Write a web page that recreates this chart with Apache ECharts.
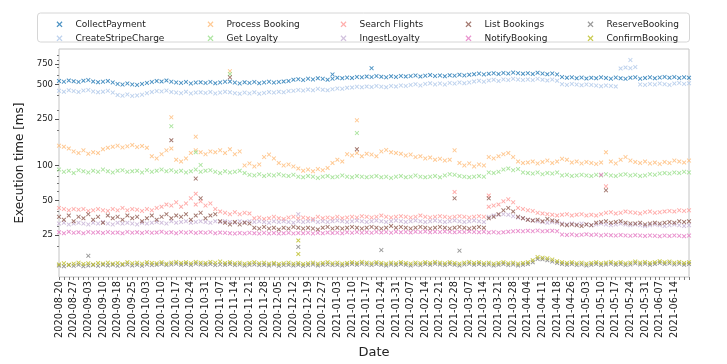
<!DOCTYPE html>
<html>
<head>
    <meta charset="utf-8">
    <title>Execution time</title>
    <script src="https://cdn.jsdelivr.net/npm/echarts@6/dist/echarts.min.js"></script>
</head>
<body style="margin:0;background:#fff;">
<div id="main" style="width: 727px;height:364px;"></div>
<script type="text/javascript">
    // weekly tick labels shown on the x axis
    const tickLabels = ['2020-08-20', '2020-08-27', '2020-09-03', '2020-09-10', '2020-09-18', '2020-09-25',
        '2020-10-03', '2020-10-10', '2020-10-17', '2020-10-24', '2020-10-31', '2020-11-07', '2020-11-14',
        '2020-11-21', '2020-11-28', '2020-12-05', '2020-12-12', '2020-12-19', '2020-12-27', '2021-01-03',
        '2021-01-10', '2021-01-17', '2021-01-24', '2021-01-31', '2021-02-07', '2021-02-14', '2021-02-21',
        '2021-02-28', '2021-03-07', '2021-03-14', '2021-03-21', '2021-03-28', '2021-04-04', '2021-04-11',
        '2021-04-18', '2021-04-26', '2021-05-03', '2021-05-10', '2021-05-17', '2021-05-24', '2021-05-31',
        '2021-06-07', '2021-06-14'];
    const yTicks = [25, 50, 100, 250, 500, 750];
    const yMinorTicks = [20, 30, 40, 60, 70, 80, 90, 200, 300, 400, 600, 700, 800, 900];

    // execution time [ms], three samples per weekly tick
    const collectPayment = [535,528,540,532,525,538,545,530,522,528,535,520,
        505,498,510,500,495,505, 515,525,535,530,540,528,
        520,515,525,510,518,522,515,525,512,520,528,530,
        518,510,522,515,525,512,520,528,518,525,530,535,
        548,555,545,560,552,565,558,548,560,570,565,572,
        568,580,575,585,578,590,582,575,588,580,592,585,
        590,598,585,595,602,590,598,588,600,595,605,598,
        605,612,620,610,618,625,615,628,620,632,625,618,
        625,615,630,620,612,622,610, 578,570,575,565,572,
        562,570,565,575,568,560,572,565,558,570,575,560,
        568,575,565,572,580,570,578,568,575,570];
    const createStripeCharge = [440,432,445,438,430,442,448,435,428,432,440,425,
        405,400,410,398,402,408, 420,430,438,435,442,430,
        425,420,432,418,425,428,422,430,418,425,432,428,
        420,415,425,418,428,415,422,430,425,432,428,438,
        440,448,442,452,445,458,450,445,455,462,458,468,
        470,478,472,480,475,485,478,472,485,480,490,485,
        495,502,490,505,512,500,510,498,515,508,520,512,
        520,530,538,528,540,548,535,552,545,558,550,545,
        552,545,558,548,540,550,538,
        502,495,505,498,492,500,495,488,482,490,485,480,
        685,700,690,705,
        500,495,505,498,510,502,495,508,515,505,512];
    const processBooking = [148,145,140, 132,128,135,126,130,128,
        138,142,145,148,143,146,150,144,147,142, 120,115,125, 135,140, 112,108,115,
        128,135,130,125,132, 130,135,128,138,125,132, 100,104,98,102, 118,124,115,
        105,100,102,98, 94,90,92,89,93,91,95, 105,112,108, 125,122,128,120,126,124,
        120,132,136,130,128, 126,122,124,118,120,115,117,112,114,110, 112,135,
        105,100,104,98,102,100, 118,115,120,125,128,118, 108,105,
        106,108,104,107,110,105,108,114,112,106, 108,104,107,105,103,106,130,108,104,112,
        118,110,107,105,108,104,106,103,107,105, 110,108,106,110];
    const getLoyalty = [92,88,90,86,91,89,87,90,88,92, 89,87,90,91,88,89,90,87,91,88,
        90,92,89,91,88,90,87,89,92,88, 90,91,
        88,86,89,87,88,90,86, 83,82,84,81,83,82,84,82,81,83,
        80,79,81,80,78,80,81,79,80,82, 80,79,81,80,79,80,81,79,80,78,
        80,81,79,80,82,80,79,80,81,79,
        82,84,83,81, 80,79,80,81,80, 87,86,88, 92,94,91,93, 87,
        86,85,87,84,86,85,87,
        82,83,81,82,83,82,81,83,82,84, 82,81,83,84,82,83,81,82,84,83, 85,86,85,87,86,88,87];
    const searchFlights = [43,42,41,42,41.5,42,40.5,41,42,41, 40.5,42,41,43,41,42,41.5,40.5,42,41, 43,
        44,46,45,48,44,47,52,46,49,45,47,
        42,40,39,38,39.5,38,39,38.5,
        35,35.5,34.5,35,36,35,34.5,35.5,36,35, 35.5,35,34.5,36,35,35.5,35,36,35,35.5,
        36,35.5,36.5,36,35.5,36,37,36,35.5,36, 36.5,36,35.5,36,37,36,35.5,36,36.5,36,
        35.5,36,36.5,36,35.5,36,36.5,36,
        44,45,46,49,51,48,43,42,
        41,40.5,39,38.5,38,37.5,37,37.5,38,37,37.5,38,37,37.5,37,38,
        39,39.5,38.5,39,40,39.5,39,38.5,39.5,40,39,39.5,40,40.5,40,41,40.5,41];
    const ingestLoyalty = [31.5,32,31,31.5,32,31.5,31,32,31.5,32.5, 31.5,31,32,31.5,32,31.5,31,32,31.5,32,
        32.5,32,31.5,33,32,32.5,33,32,32.5,33, 32.5,32,33,32.5,33,32.5,32,33,32.5,33,
        32.5,33,32.5,32,33,32.5,33,32.5,32,33, 32.5,33,33.5,32.5,33,32.5,33,33.5,33,32.5,
        33,33.5,33,32.5,33,33.5,33,32.5,33,33.5, 33,32.5,33,33.5,33,32.5,33,33.5,33,32.5,
        33,33.5,33,32.5,33,33.5,33,32.5,
        36,37,37.5,38,37.5,36.5,35.5,35,
        34,33.5,33,32.5,32,32.5,32,31.5,31,31.5, 31,31.5,31,30.5,31,31.5,31,30.5,31,31.5,
        31,30.5,31,30.5,30,30.5,31,30.5,30,30.5, 31,30.5,30,30.5];
    const listBookings = [36,34,37,33,36,35,38,34,36,32, 37,35,36,34,37,35,36,33,35,37,
        34,36,38,35,37,36,38,34,37,39, 35,37,
        38,33,32,31,32.5,31,32,31.5,
        29,28.5,29.5,28.5,29,28,29,28.5,29.5,29, 28.5,29,28.5,28,29,29.5,28.5,29,28.5,29,
        29.5,29,28.5,29,29.5,29,28.5,29,30,29, 29.5,29,28.5,29,29.5,29,28.5,29,29.5,29,
        28.5,29,29.5,29,28.5,29,29.5,29,
        35,36,38,41,43,40,36,35,
        34,33.5,34,33,34.5,33.5,33,31,30.5,31,30.5,30,31,30.5,
        32,32.5,33,32,32.5,33,32,31.5,
        31.5,32,31,31.5,32,31.5,32,32.5,32,33,32.5,33];
    const notifyBooking = [26.5,26,26.8,26.2,26.5,26,26.7,26.3,26.5,26.1, 26.6,26.2,26.4,26,26.7,26.3,26.5,26.1,26.6,26.2,
        26.4,26.8,26.2,26.5,26,26.6,26.3,26.7,26.1,26.5, 26.2,26.6,26,26.4,26.2,26,25.8,26.1,25.9,26.2,
        26,25.8,26.2,25.9,26.1,25.8,26,26.2,25.9,26.1, 26,26.3,25.9,26.2,26,26.4,26.1,26.3,26,26.5,
        26.2,26.6,26.3,26.5,26.2,26.7,26.4,26.6,26.3,26.8, 26.5,26.7,26.4,26.8,26.6,26.9,26.5,26.8,26.6,26.9,
        26.7,26.5,26.8,26.6,26.9,26.7,26.5,26.8,
        26.4,26.6,26.3,26.5,26.8,27,27.2,27,27.3,27.1,27.4,27,27.2,27.3,27.1,
        25.3,25.1,25.4,25,25.2,25.5,25.1,25.3,24.9,25.2, 25,24.8,25.1,24.9,24.7,25,24.8,24.6,24.9,24.7,
        24.5,24.8,24.6,24.9,24.7,24.5,24.8];
    const reserveBooking = [13.7,13.5,13.8,13.6,13.9,13.5,13.7,13.8,13.6,13.9,
        13.7,13.9,13.6,13.8,14.0,13.7,13.9,13.6,14.0,13.8,
        13.9,14.1,13.8,14.0,14.2,13.9,14.1,13.8,14.2,14.0,
        13.9,14.1,13.8,14.0,13.9,14.1,13.8,14.0,13.7,13.9,
        14.0,13.8,13.9,13.7,14.0,13.6,13.8,13.9,13.7,13.9,
        13.6,13.8,14.0,13.7,13.9,14.0,13.8,13.9,13.7,13.9,
        14.1,13.9,14.2,14.0,13.8,14.1,13.9,13.7,14.0,13.8,
        14.1,13.9,13.7,14.0,13.8,14.1,13.9,14.2,14.0,13.8,
        14.1,13.9,13.7,14.0,14.2,13.9,14.1,13.8,14.0,13.7,
        13.9,14.1,13.8,14.0,13.7,13.9,14.1,14.6,15.6,15.5,
        15.2,14.8,14.4,14.1,13.9,14.1,13.8,14.0,13.7,13.9,
        14.1,13.8,14.0,14.2,13.9,14.1,13.8,14.0,14.3,14.0,
        14.2,13.9,14.1,14.4,14.1,14.3,14.0,14.2,13.9,14.1];
    const confirmBooking = [14.0,14.3,13.9,14.2,14.5,14.1,14.3,14.0,14.4,14.2,
        14.5,14.2,14.4,14.1,14.6,14.3,14.5,14.2,14.6,14.4,
        14.3,14.6,14.2,14.5,14.7,14.4,14.6,14.3,14.7,14.5,
        14.4,14.7,14.5,14.8,14.4,14.6,14.3,14.5,14.2,14.4,
        14.6,14.3,14.5,14.2,14.4,14.1,14.3,14.5,14.2,14.4,
        14.1,14.3,14.5,14.2,14.4,14.6,14.3,14.5,14.2,14.4,
        14.6,14.4,14.7,14.5,14.3,14.6,14.4,14.2,14.5,14.3,
        14.6,14.4,14.2,14.5,14.3,14.6,14.4,14.7,14.5,14.3,
        14.6,14.4,14.2,14.5,14.7,14.4,14.6,14.3,14.5,14.2,
        14.4,14.6,14.3,14.5,14.2,14.4,14.6,15.2,16.2,16.0,
        15.8,15.4,14.9,14.6,14.4,14.6,14.3,14.5,14.2,14.4,
        14.6,14.3,14.5,14.7,14.4,14.6,14.3,14.5,14.8,14.5,
        14.7,14.4,14.6,14.9,14.6,14.8,14.5,14.7,14.4,14.6];

    // isolated outliers: [sample index, ms]
    const collectPaymentOut = [[56, 610], [64, 690]];
    const createStripeChargeOut = [[117, 810]];
    const processBookingOut = [[23, 260], [28, 177], [35, 650], [61, 245]];
    const getLoyaltyOut = [[23, 218], [28, 130], [29, 101], [35, 615], [61, 190]];
    const searchFlightsOut = [[28, 57], [81, 59], [88, 55], [112, 66]];
    const ingestLoyaltyOut = [[49, 38]];
    const listBookingsOut = [[23, 165], [28, 77], [29, 52], [35, 575], [61, 138], [81, 52], [88, 52], [112, 61]];
    const notifyBookingOut = [[111, 83]];
    const reserveBookingOut = [[6, 16.6], [49, 19.8], [66, 18.6], [82, 18.4]];
    const confirmBookingOut = [[49, 22.5], [49, 17.2]];

    const names = ['CollectPayment', 'CreateStripeCharge', 'Process Booking', 'Get Loyalty', 'Search Flights',
        'IngestLoyalty', 'List Bookings', 'NotifyBooking', 'ReserveBooking', 'ConfirmBooking'];
    const colors = ['#1f77b4', '#aec7e8', '#ffbb78', '#98df8a', '#ff9896',
        '#c5b0d5', '#8c564b', '#e377c2', '#7f7f7f', '#bcbd22'];
    const values = [collectPayment, createStripeCharge, processBooking, getLoyalty, searchFlights,
        ingestLoyalty, listBookings, notifyBooking, reserveBooking, confirmBooking];
    const outliers = [collectPaymentOut, createStripeChargeOut, processBookingOut, getLoyaltyOut, searchFlightsOut,
        ingestLoyaltyOut, listBookingsOut, notifyBookingOut, reserveBookingOut, confirmBookingOut];

    function addDays(s, n) {
        const d = new Date(s + 'T00:00:00Z');
        d.setUTCDate(d.getUTCDate() + n);
        return d.toISOString().slice(0, 10);
    }

    // three sample dates between consecutive ticks
    const categories = [];
    tickLabels.forEach(function (d, k) {
        const next = k < tickLabels.length - 1 ? tickLabels[k + 1] : addDays(d, 7);
        const gap = Math.round((Date.parse(next) - Date.parse(d)) / 86400000);
        categories.push(d, addDays(d, Math.round(gap / 3)), addDays(d, Math.round(2 * gap / 3)));
    });
    categories.push(addDays(tickLabels[tickLabels.length - 1], 7));

    // filled "x" marker
    const X = 'path://M0,1.5L1.5,0L5,3.5L8.5,0L10,1.5L6.5,5L10,8.5L8.5,10L5,6.5L1.5,10L0,8.5L3.5,5Z';
    const font = 'DejaVu Sans';

    const legendCols = [[0, 1], [2, 3], [4, 5], [6, 7], [8, 9]];
    const legendX = [55, 206, 339, 464, 586];

    const myChart = echarts.init(document.getElementById('main'));
    const option = {
        animation: false,
        graphic: [{
            type: 'rect', left: 37, top: 12.5, z: 1,
            shape: {width: 652, height: 29, r: 3},
            style: {fill: '#fff', stroke: '#d6d6d6', lineWidth: 1}
        }],
        legend: legendCols.map(function (c, j) {
            return {
                orient: 'vertical', left: legendX[j] - 3.5, top: 13.3, z: 5,
                itemWidth: 6, itemHeight: 6, itemGap: 2, icon: X, selectedMode: false,
                data: c.map(function (i) { return names[i]; }),
                textStyle: {fontSize: 9, fontFamily: font, color: '#222', lineHeight: 12, padding: [0, 0, 0, 8]}
            };
        }),
        grid: {left: 59, right: 38, top: 49, bottom: 85, show: true, borderColor: '#c4c4c4', borderWidth: 1},
        xAxis: {
            type: 'category', data: categories, boundaryGap: false,
            name: 'Date', nameLocation: 'middle', nameGap: 69,
            nameTextStyle: {fontSize: 13, fontFamily: font, color: '#222'},
            axisLine: {show: false},
            axisTick: {interval: 0, length: 3, lineStyle: {color: '#777'}},
            axisLabel: {
                rotate: 90, fontSize: 9.8, fontFamily: font, color: '#222', margin: 4,
                interval: function (idx) { return idx % 3 === 0 && idx < tickLabels.length * 3; }
            },
            splitLine: {show: false}
        },
        yAxis: [{
            type: 'log', logBase: 10, min: 10.9, max: 1010,
            name: 'Execution time [ms]', nameLocation: 'middle', nameGap: 25,
            nameTextStyle: {fontSize: 12, fontFamily: font, color: '#222'},
            axisLine: {show: false},
            axisTick: {show: true, customValues: yTicks, length: 4, lineStyle: {color: '#555'}},
            axisLabel: {customValues: yTicks, fontSize: 8.5, fontFamily: font, color: '#222', margin: 6},
            splitLine: {show: false}
        }, {
            type: 'log', logBase: 10, min: 10.9, max: 1010, position: 'left',
            axisLine: {show: false},
            axisTick: {show: true, customValues: yMinorTicks, length: 2, lineStyle: {color: '#777'}},
            axisLabel: {show: false},
            splitLine: {show: false}
        }],
        series: names.map(function (name, s) {
            return {
                name: name, type: 'scatter', symbol: X, symbolSize: 4.5,
                itemStyle: {color: colors[s]},
                data: values[s].map(function (v, i) { return [i, v]; }).concat(outliers[s])
            };
        })
    };
    myChart.setOption(option);
</script>
</body>
</html>
